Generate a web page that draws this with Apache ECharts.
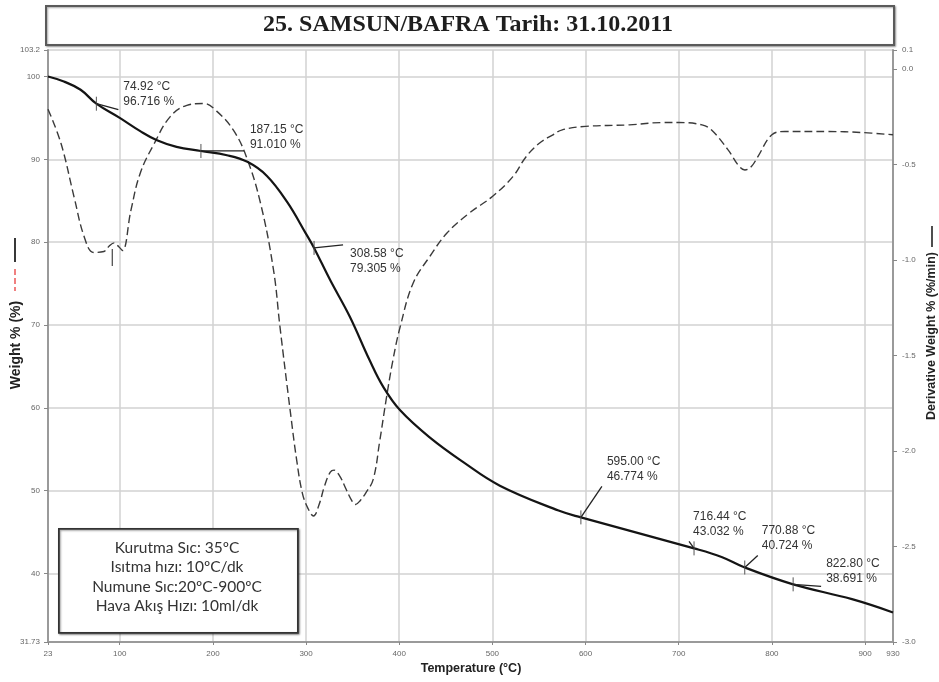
<!DOCTYPE html>
<html>
<head>
<meta charset="utf-8">
<title>25. SAMSUN/BAFRA Tarih: 31.10.2011</title>
<script src="https://cdn.jsdelivr.net/npm/echarts@6/dist/echarts.min.js"></script>
<style>
  html, body { margin: 0; padding: 0; background: #fff; }
  #chart { width: 939px; height: 682px; }
</style>
</head>
<body>
<div id="chart"></div>
<script>
// Thermogravimetric curve: temperature (°C) vs remaining weight (%)
const tgTemp = [23, 40, 58, 74.92, 100, 122, 140, 161, 187.15, 215, 237, 258, 280, 300, 308.58,
  326, 347, 368, 383, 401, 433, 468, 508, 571, 595.00, 716.44, 746, 770.88, 822.80, 886, 930];
const tgWeight = [100.0, 99.4, 98.4, 96.716, 95.0, 93.4, 92.3, 91.5, 91.010, 90.5, 89.7, 88.0, 84.8, 81.0, 79.305,
  75.4, 71.0, 65.8, 62.5, 59.7, 56.4, 53.5, 50.6, 47.6, 46.774, 43.032, 42.0, 40.724, 38.691, 36.9, 35.3];

// Derivative weight curve: temperature (°C) vs %/min
const dtgTemp = [23, 37, 51, 62, 72, 83, 88, 94, 99, 103, 112, 122, 137, 154, 172, 190, 204, 222, 236, 251,
  265, 272, 283, 290, 296, 302, 308, 314, 320, 326, 330, 336, 343, 348, 353, 358, 364, 372, 379, 386,
  393, 401, 415, 433, 451, 475, 500, 522, 536, 550, 565, 575, 600, 647, 682, 700, 725, 735, 753, 765,
  771, 778, 785, 800, 814, 860, 896, 930];
const dtgRate = [-0.21, -0.39, -0.67, -0.88, -0.96, -0.955, -0.93, -0.91, -0.93, -0.95, -0.74, -0.545, -0.39, -0.25, -0.19, -0.18, -0.22, -0.32, -0.46, -0.70,
  -1.05, -1.35, -1.79, -2.05, -2.22, -2.30, -2.34, -2.28, -2.18, -2.11, -2.10, -2.13, -2.20, -2.25, -2.28, -2.26, -2.22, -2.15, -1.95, -1.73,
  -1.53, -1.35, -1.12, -0.98, -0.86, -0.755, -0.667, -0.563, -0.46, -0.39, -0.344, -0.318, -0.30, -0.292, -0.28, -0.28, -0.292, -0.318, -0.423, -0.51,
  -0.528, -0.51, -0.458, -0.344, -0.327, -0.327, -0.332, -0.344];

// Marked points on the weight curve
const annTemp = [74.92, 187.15, 308.58, 595.00, 716.44, 770.88, 822.80];
const annWeight = [96.716, 91.010, 79.305, 46.774, 43.032, 40.724, 38.691];

// Peak marker on the derivative curve
const dtgPeakTemp = [92];
const dtgPeakRate = [-0.91];

// Tick labels
const xTicks = [23, 100, 200, 300, 400, 500, 600, 700, 800, 900, 930];
const yLeftTicks = [31.73, 40, 50, 60, 70, 80, 90, 100, 103.2];
const yRightTicks = [-3.0, -2.5, -2.0, -1.5, -1.0, -0.5, 0.0, 0.1];

// Text block
const infoLines = ['Kurutma Sıc: 35ºC', 'Isıtma hızı: 10ºC/dk', 'Numune Sıc:20ºC-900ºC', 'Hava Akış Hızı: 10ml/dk'];

// Placement of the leader line end (lx, ly) and label (tx, ty) around each marked point, in px
const annPlacement = [
  { lx: 22, ly: 6, tx: 27, ty: -17 },
  { lx: 43, ly: 0, tx: 49, ty: -21 },
  { lx: 29, ly: -3, tx: 36, ty: 6 },
  { lx: 21, ly: -31, tx: 26, ty: -56 },
  { lx: -5, ly: -7, tx: -1, ty: -32 },
  { lx: 13, ly: -12, tx: 17, ty: -37 },
  { lx: 28, ly: 2, tx: 33, ty: -21 }
];

const chart = echarts.init(document.getElementById('chart'), null, { renderer: 'canvas' });

const labelFont = 'Arial, "Liberation Sans", sans-serif';

function renderAnnotation(params, api) {
  const i = params.dataIndex;
  const p = api.coord([api.value(0), api.value(1)]);
  const L = annPlacement[i];
  const txtStyle = { font: '12px ' + labelFont, fill: '#333', align: 'left', verticalAlign: 'middle' };
  return {
    type: 'group',
    children: [
      { type: 'line', shape: { x1: p[0], y1: p[1] - 7, x2: p[0], y2: p[1] + 7 }, style: { stroke: '#555', lineWidth: 1 } },
      { type: 'line', shape: { x1: p[0], y1: p[1], x2: p[0] + L.lx, y2: p[1] + L.ly }, style: { stroke: '#222', lineWidth: 1.3 } },
      { type: 'text', x: p[0] + L.tx, y: p[1] + L.ty, style: Object.assign({ text: annTemp[i].toFixed(2) + ' °C' }, txtStyle) },
      { type: 'text', x: p[0] + L.tx, y: p[1] + L.ty + 15, style: Object.assign({ text: annWeight[i].toFixed(3) + ' %' }, txtStyle) }
    ]
  };
}

function renderPeakMark(params, api) {
  const p = api.coord([api.value(0), api.value(1)]);
  return {
    type: 'line',
    shape: { x1: p[0], y1: p[1] + 6, x2: p[0], y2: p[1] + 23 },
    style: { stroke: '#444', lineWidth: 1.2 }
  };
}

const gridLine = { color: '#d2d2d2', width: 1.5 };
const axisLine = { show: true, onZero: false, lineStyle: { color: '#9a9a9a', width: 2 } };
const tickLabel = { fontSize: 8, color: '#666', fontFamily: labelFont };

const option = {
  backgroundColor: '#fff',
  animation: false,
  grid: { left: 48, right: 46, top: 50, bottom: 40, containLabel: false },
  xAxis: {
    type: 'value', min: 23, max: 930,
    axisLine: axisLine,
    axisTick: { show: true, customValues: xTicks, length: 3, lineStyle: { color: '#888' } },
    axisLabel: Object.assign({ customValues: xTicks, margin: 8 }, tickLabel),
    splitLine: { show: true, lineStyle: gridLine }
  },
  yAxis: [
    {
      type: 'value', min: 31.73, max: 103.2, position: 'left',
      axisLine: axisLine,
      axisTick: { show: true, customValues: yLeftTicks, length: 4, lineStyle: { color: '#888' } },
      axisLabel: Object.assign({ customValues: yLeftTicks, margin: 8, formatter: v => String(v) }, tickLabel),
      splitLine: { show: true, lineStyle: gridLine }
    },
    {
      type: 'value', min: -3.0, max: 0.1, position: 'right',
      axisLine: axisLine,
      axisTick: { show: true, customValues: yRightTicks, length: 4, lineStyle: { color: '#888' } },
      axisLabel: Object.assign({ customValues: yRightTicks, margin: 9, formatter: v => v.toFixed(1) }, tickLabel),
      splitLine: { show: false }
    }
  ],
  series: [
    {
      name: 'Derivative Weight', type: 'line', yAxisIndex: 1,
      data: dtgTemp.map((t, i) => [t, dtgRate[i]]),
      showSymbol: false, smooth: 0.4,
      lineStyle: { color: '#3a3a3a', width: 1.4, type: [8, 4] },
      z: 3
    },
    {
      name: 'Weight', type: 'line', yAxisIndex: 0,
      data: tgTemp.map((t, i) => [t, tgWeight[i]]),
      showSymbol: false, smooth: 0.4,
      lineStyle: { color: '#141414', width: 2.2 },
      z: 4
    },
    {
      type: 'custom', yAxisIndex: 0, silent: true, z: 5,
      renderItem: renderAnnotation,
      data: annTemp.map((t, i) => [t, annWeight[i]])
    },
    {
      type: 'custom', yAxisIndex: 1, silent: true, z: 5,
      renderItem: renderPeakMark,
      data: dtgPeakTemp.map((t, i) => [t, dtgPeakRate[i]])
    }
  ],
  graphic: [
    // title box
    {
      type: 'rect', left: 45, top: 5, shape: { width: 848, height: 39 },
      style: { fill: '#fff', stroke: '#5a5a5a', lineWidth: 2, shadowBlur: 2, shadowOffsetX: 1, shadowOffsetY: 1, shadowColor: 'rgba(0,0,0,0.35)' },
      z: 10
    },
    {
      type: 'text', x: 468, y: 25, z: 11,
      style: { text: '25. SAMSUN/BAFRA Tarih: 31.10.2011', font: 'bold 24px "Liberation Serif", "Times New Roman", serif', fill: '#1e1e1e', align: 'center', verticalAlign: 'middle' }
    },
    // axis titles
    {
      type: 'text', x: 16, y: 345, rotation: Math.PI / 2, z: 11,
      style: { text: 'Weight % (%)', font: 'bold 14px ' + labelFont, fill: '#222', align: 'center', verticalAlign: 'middle' }
    },
    { type: 'line', z: 11, shape: { x1: 15, y1: 238, x2: 15, y2: 262 }, style: { stroke: '#222', lineWidth: 1.8 } },
    { type: 'line', z: 11, shape: { x1: 15, y1: 269, x2: 15, y2: 291 }, style: { stroke: '#f08080', lineWidth: 2, lineDash: [6, 3] } },
    {
      type: 'text', x: 932, y: 336, rotation: Math.PI / 2, z: 11,
      style: { text: 'Derivative Weight % (%/min)', font: 'bold 12.5px ' + labelFont, fill: '#222', align: 'center', verticalAlign: 'middle' }
    },
    { type: 'line', z: 11, shape: { x1: 932, y1: 226, x2: 932, y2: 247 }, style: { stroke: '#222', lineWidth: 1.6 } },
    {
      type: 'text', x: 471, y: 669, z: 11,
      style: { text: 'Temperature (°C)', font: 'bold 12.5px ' + labelFont, fill: '#222', align: 'center', verticalAlign: 'middle' }
    },
    // measurement conditions box
    {
      type: 'rect', left: 58, top: 528, shape: { width: 239, height: 104 },
      style: { fill: '#fff', stroke: '#333', lineWidth: 1.8, shadowBlur: 2, shadowOffsetX: 1, shadowOffsetY: 1, shadowColor: 'rgba(0,0,0,0.4)' },
      z: 10
    }
  ].concat(infoLines.map((t, i) => ({
    type: 'text', x: 177, y: 548 + i * 19.4, z: 11,
    style: { text: t, font: '15.5px Lato, "Open Sans", sans-serif', fill: '#333', align: 'center', verticalAlign: 'middle' }
  })))
};

chart.setOption(option);
</script>
</body>
</html>
